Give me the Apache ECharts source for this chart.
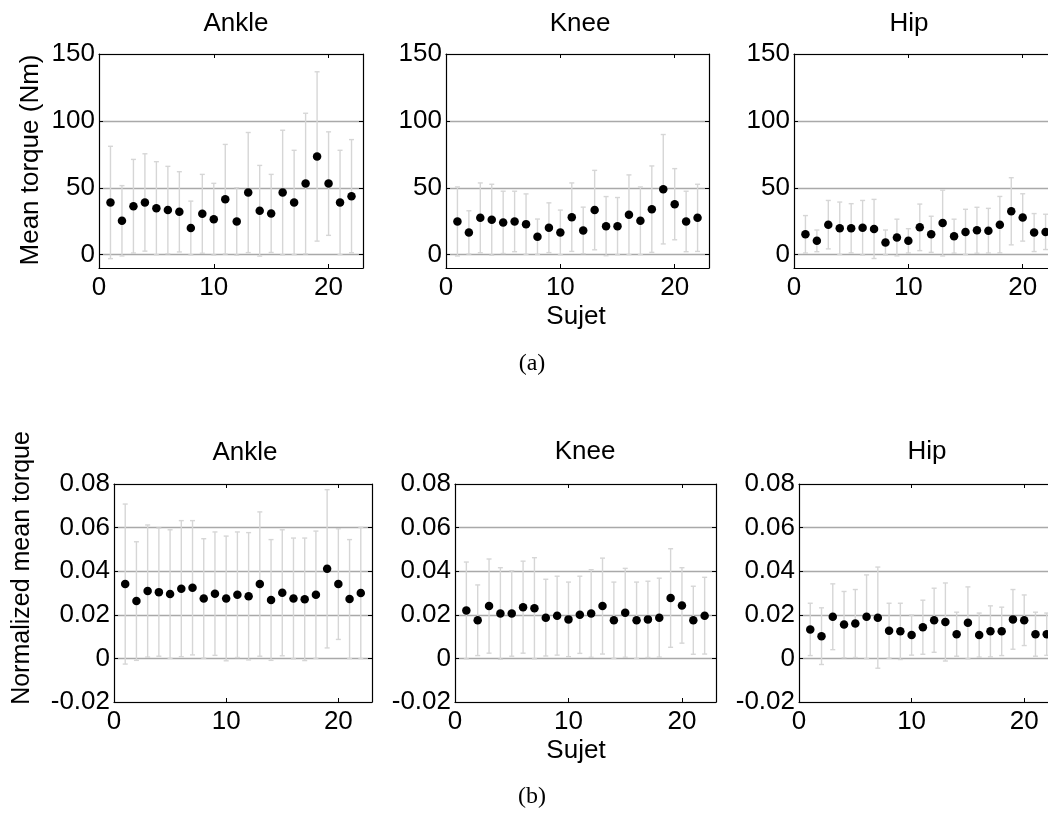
<!DOCTYPE html>
<html>
<head>
<meta charset="utf-8">
<script src="https://cdn.jsdelivr.net/npm/echarts@6/dist/echarts.min.js"></script>
<style>
html,body{margin:0;padding:0;background:#fff;}
#chart{width:1048px;height:818px;}
</style>
</head>
<body>
<div id="chart"></div>
<script>
// ---------------- data ----------------
const subjects = [1,2,3,4,5,6,7,8,9,10,11,12,13,14,15,16,17,18,19,20,21,22];
const jointNames = ['Ankle','Knee','Hip'];

// (a) Mean torque (Nm): mean and standard deviation per subject
const ankleTorqueMean = [39,25.3,36.2,39,34.7,33.3,32,19.9,30.5,26.5,41.4,24.8,46.4,32.8,30.8,46.4,39,53.1,73.4,53.1,39,43.7];
const ankleTorqueSd   = [42,26.3,35,36.4,34.8,32.7,30,20.1,29.5,26.8,41,25.2,44.9,33.9,29.2,46.6,39,52.6,63.3,38.7,39,42.3];
const kneeTorqueMean  = [24.8,16.6,27.5,26.1,24.1,24.8,22.8,13.4,20.1,16.6,28,18.1,33.3,21.3,21.3,29.8,25.3,34,48.9,37.7,24.8,27.5];
const kneeTorqueSd    = [25.8,16.2,26.1,26.5,23.3,22.6,22.6,13.2,18.6,16.7,25.6,17.4,29.7,22.1,21.4,29.8,25.3,32.3,40.9,26.6,22.6,25.1];
const hipTorqueMean   = [15.2,10.3,22.4,19.7,19.7,20.1,19.2,9.1,12.8,10.3,20.4,15.2,23.6,13.8,17,18.2,17.9,22.4,32.4,27.8,16.5,17];
const hipTorqueSd     = [14,8.1,18.1,19.6,18.4,20.4,22.1,9.3,13.7,9.1,17.4,13.5,24.6,12.7,16.9,17.2,16.7,21.1,25.1,17.7,14.2,13.2];

// (b) Normalized mean torque
const ankleNormMean = [0.0341,0.0263,0.0309,0.0304,0.0295,0.032,0.0324,0.0275,0.0297,0.0275,0.0292,0.0285,0.0341,0.0268,0.0301,0.0275,0.0271,0.0292,0.0411,0.0341,0.0272,0.030];
const ankleNormSd   = [0.0367,0.0272,0.0303,0.0294,0.0295,0.0312,0.0308,0.0274,0.0283,0.0286,0.0288,0.0292,0.0331,0.0277,0.0289,0.0277,0.0281,0.0292,0.0363,0.0254,0.0273,0.0301];
const kneeNormMean  = [0.022,0.0175,0.024,0.0206,0.0206,0.0235,0.023,0.0187,0.0196,0.0179,0.02,0.0206,0.024,0.0175,0.0209,0.0175,0.0179,0.0187,0.0277,0.0243,0.0175,0.0196];
const kneeNormSd    = [0.0222,0.0162,0.0216,0.021,0.0196,0.0211,0.0232,0.0176,0.0181,0.0171,0.0177,0.0201,0.022,0.0175,0.0204,0.0175,0.0175,0.0181,0.0226,0.0173,0.0156,0.0176];
const hipNormMean   = [0.0133,0.0102,0.0191,0.0155,0.016,0.0191,0.0187,0.0127,0.0124,0.0107,0.0143,0.0175,0.0167,0.0111,0.0163,0.0107,0.0124,0.0124,0.0179,0.0175,0.0111,0.0111];
const hipNormSd     = [0.012,0.013,0.0151,0.0152,0.0156,0.0192,0.0232,0.0126,0.0129,0.0092,0.0124,0.0147,0.0179,0.0101,0.0165,0.0101,0.0117,0.0111,0.0137,0.0116,0.0101,0.0097];

// axis ticks
const subjectTicks = [0,10,20];
const subjectRange = [0,23];
const torqueTicks = [0,50,100,150];
const torqueRange = [-10,150];
const normTicks = [-0.02,0,0.02,0.04,0.06,0.08];
const normRange = [-0.02,0.08];

// ---------------- layout / style ----------------
const FONT = 'Liberation Sans, Arial, sans-serif';
const FS = 26;
const panels = [
  {mean: ankleTorqueMean, sd: ankleTorqueSd, ticks: torqueTicks, range: torqueRange, grid:{left:99, top:54, width:264, height:214}},
  {mean: kneeTorqueMean,  sd: kneeTorqueSd,  ticks: torqueTicks, range: torqueRange, grid:{left:446, top:54, width:263, height:214}},
  {mean: hipTorqueMean,   sd: hipTorqueSd,   ticks: torqueTicks, range: torqueRange, grid:{left:794, top:54, width:263, height:214}},
  {mean: ankleNormMean, sd: ankleNormSd, ticks: normTicks, range: normRange, grid:{left:114, top:484, width:258, height:218}},
  {mean: kneeNormMean,  sd: kneeNormSd,  ticks: normTicks, range: normRange, grid:{left:455, top:484, width:261, height:218}},
  {mean: hipNormMean,   sd: hipNormSd,   ticks: normTicks, range: normRange, grid:{left:799, top:484, width:259, height:218}}
];

const grids = [], xAxes = [], yAxes = [], series = [];
const axisLineStyle = {show:true, onZero:false, lineStyle:{color:'#000', width:1.2}};
const tickStyle = {show:true, inside:true, length:4, lineStyle:{color:'#000', width:1}};

panels.forEach((p, i) => {
  grids.push(Object.assign({outerBoundsMode:'none', containLabel:false}, p.grid));
  // bottom x
  xAxes.push({
    gridIndex:i, type:'value', position:'bottom', min:subjectRange[0], max:subjectRange[1],
    axisLine:axisLineStyle, axisTick:Object.assign({customValues:subjectTicks}, tickStyle),
    axisLabel:{customValues:subjectTicks, color:'#000', fontFamily:FONT, fontSize:FS, margin:7},
    splitLine:{show:false}, z:10
  });
  // top x (box)
  xAxes.push({
    gridIndex:i, type:'value', position:'top', min:subjectRange[0], max:subjectRange[1],
    axisLine:axisLineStyle, axisTick:Object.assign({customValues:subjectTicks}, tickStyle),
    axisLabel:{show:false}, splitLine:{show:false}, z:10
  });
  // left y
  yAxes.push({
    gridIndex:i, type:'value', position:'left', min:p.range[0], max:p.range[1],
    axisLine:axisLineStyle, axisTick:Object.assign({customValues:p.ticks}, tickStyle),
    axisLabel:{customValues:p.ticks, color:'#000', fontFamily:FONT, fontSize:FS, margin:4},
    splitLine:{show:true, lineStyle:{color:'#a9a9a9', width:1.3}}
  });
  // right y (box)
  yAxes.push({
    gridIndex:i, type:'value', position:'right', min:p.range[0], max:p.range[1],
    axisLine:axisLineStyle, axisTick:Object.assign({customValues:p.ticks}, tickStyle),
    axisLabel:{show:false}, splitLine:{show:false}, z:10
  });

  const barData = subjects.map((s, k) => [s, p.mean[k] - p.sd[k], p.mean[k] + p.sd[k]]);
  const ptData = subjects.map((s, k) => [s, p.mean[k]]);

  series.push({
    type:'custom', xAxisIndex:2*i, yAxisIndex:2*i, data:barData, silent:true, z:2,
    renderItem: function(params, api){
      const x = api.value(0);
      const lo = api.coord([x, api.value(1)]);
      const hi = api.coord([x, api.value(2)]);
      const hw = 2.5;
      const st = {stroke:'#d6d6d6', lineWidth:1.4};
      return {type:'group', children:[
        {type:'line', shape:{x1:lo[0], y1:lo[1], x2:hi[0], y2:hi[1]}, style:st},
        {type:'line', shape:{x1:lo[0]-hw, y1:lo[1], x2:lo[0]+hw, y2:lo[1]}, style:st},
        {type:'line', shape:{x1:hi[0]-hw, y1:hi[1], x2:hi[0]+hw, y2:hi[1]}, style:st}
      ]};
    }
  });
  series.push({
    type:'scatter', xAxisIndex:2*i, yAxisIndex:2*i, data:ptData, symbol:'circle', symbolSize:8.5,
    itemStyle:{color:'#000', opacity:1}, z:5, silent:true
  });
});

// ---------------- text ----------------
const txt = (text, x, y, opts) => Object.assign({
  type:'text', x:x, y:y, silent:true,
  style:{text:text, font: FS + 'px ' + FONT, fill:'#000', align:'center', verticalAlign:'middle', textAlign:'center', textVerticalAlign:'middle'}
}, opts || {});

const graphics = [];
const titlePos = [[236,24],[580,24],[909,24],[245,453],[585,452],[927,452]];
titlePos.forEach((tp, i) => graphics.push(txt(jointNames[i % 3], tp[0], tp[1])));
graphics.push(txt('Mean torque (Nm)', 31, 160, {rotation: Math.PI/2}));
graphics.push(txt('Normalized mean torque', 22, 568, {rotation: Math.PI/2, style:{text:'Normalized mean torque', font:'25px ' + FONT, fill:'#000', align:'center', verticalAlign:'middle', textAlign:'center', textVerticalAlign:'middle'}}));
graphics.push(txt('Sujet', 576, 317));
graphics.push(txt('Sujet', 576, 751));
const serif = (text, x, y) => ({
  type:'text', x:x, y:y, silent:true,
  style:{text:text, font:'24px Liberation Serif, Times New Roman, serif', fill:'#000', align:'center', verticalAlign:'middle', textAlign:'center', textVerticalAlign:'middle'}
});
graphics.push(serif('(a)', 532, 364));
graphics.push(serif('(b)', 532, 797));

const chart = echarts.init(document.getElementById('chart'), null, {renderer:'canvas'});
chart.setOption({
  animation:false,
  backgroundColor:'#fff',
  grid:grids, xAxis:xAxes, yAxis:yAxes, series:series, graphic:graphics
});
</script>
</body>
</html>
